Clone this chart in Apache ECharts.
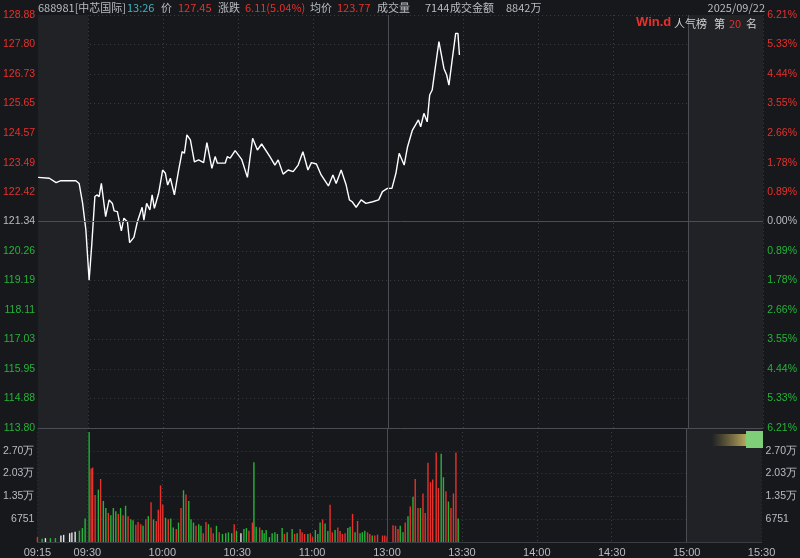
<!doctype html>
<html lang="zh">
<head>
<meta charset="UTF-8">
<style>html,body{margin:0;padding:0;background:#16181c;}</style>
</head>
<body>
<div id="main" style="width:800px;height:558px;"></div>
<script src="https://cdn.jsdelivr.net/npm/echarts@6/dist/echarts.min.js"></script>
<script>
// 分时数据：x 为距 09:30 的分钟（集合竞价段 09:15-09:30 压缩为 20 个单位）
var preClose = 121.34;
var priceTicks = [113.80, 114.88, 115.95, 117.03, 118.11, 119.19, 120.26, 121.34, 122.42, 123.49, 124.57, 125.65, 126.73, 127.80, 128.88];
var pctTicks = ['6.21%', '5.33%', '4.44%', '3.55%', '2.66%', '1.78%', '0.89%', '0.00%', '0.89%', '1.78%', '2.66%', '3.55%', '4.44%', '5.33%', '6.21%'];
var volTicks = [6751, 13502, 20253, 27004];
var volTickLabels = ['6751', '1.35万', '2.03万', '2.70万'];
var timeTicks = [-20, 0, 30, 60, 90, 120, 150, 180, 210, 240, 270];
var timeLabels = ['09:15', '09:30', '10:00', '10:30', '11:00', '13:00', '13:30', '14:00', '14:30', '15:00', '15:30'];

var priceT = [-20, -15.5, -12.8, -10.9, -4.9, -3.6, -2.2, -0.9, 0.4, 1.4, 2.7, 3.5, 4.4, 5.3, 7.0, 8.4, 9.7, 10.4, 11.7, 13.3, 14.3, 15.7, 16.6, 18.3, 19.7, 21.6, 22.3, 23.4, 24.7, 25.6, 26.5, 28.2, 29.8, 30.9, 31.8, 32.9, 34.5, 36.2, 37.6, 38.5, 39.5, 40.9, 42.5, 44.2, 46.2, 47.5, 49.5, 50.8, 51.7, 54.8, 55.7, 56.8, 58.8, 61.4, 63.7, 65.8, 67.7, 69.4, 72.7, 74.7, 76.0, 78.0, 80.0, 82.0, 84.0, 85.9, 87.9, 89.3, 91.3, 93.2, 96.1, 97.9, 99.2, 101.2, 103.2, 104.5, 105.6, 107.2, 109.2, 111.1, 113.8, 116.2, 117.7, 119.7, 121.5, 123.1, 124.4, 126.4, 127.7, 129.7, 132.1, 133.0, 134.3, 135.6, 136.6, 137.6, 138.7, 140.3, 142.3, 143.4, 144.3, 145.6, 147.0, 147.9, 148.5];
var priceV = [122.95, 122.92, 122.76, 122.83, 122.83, 122.73, 122.00, 121.03, 119.20, 120.42, 122.25, 122.31, 122.25, 122.73, 121.52, 122.13, 122.00, 121.73, 121.70, 121.00, 121.46, 121.33, 120.57, 120.76, 121.33, 121.86, 121.39, 122.00, 121.76, 122.31, 121.82, 122.37, 123.22, 123.10, 122.67, 122.92, 122.31, 123.22, 123.89, 123.83, 124.50, 124.32, 123.52, 123.59, 123.49, 124.22, 123.28, 123.71, 123.47, 123.47, 123.71, 123.65, 123.93, 123.61, 122.95, 124.38, 123.95, 124.17, 123.71, 123.40, 123.59, 123.07, 123.22, 123.16, 123.40, 123.89, 123.22, 123.49, 123.44, 123.04, 122.64, 123.04, 122.73, 123.22, 122.67, 122.13, 122.06, 121.86, 122.13, 122.00, 122.06, 122.13, 122.43, 122.55, 122.55, 123.10, 123.83, 123.40, 124.05, 124.68, 125.05, 124.80, 125.29, 124.98, 125.96, 126.14, 126.87, 127.91, 126.93, 126.69, 126.32, 127.24, 128.21, 128.21, 127.42];

var volT = [-20, -18.1, -16.8, -14.8, -12.8, -10.6, -9.5, -7.1, -6.2, -4.9, -3.2, -2.0, -0.9, 0.7, 1.5, 2.1, 3.1, 4.4, 5.3, 6.4, 7.4, 8.4, 9.4, 10.4, 11.4, 12.4, 13.3, 14.3, 15.3, 16.3, 17.4, 18.3, 19.4, 20.3, 21.4, 22.3, 23.4, 24.4, 25.5, 26.5, 27.6, 28.4, 29.3, 30.2, 31.3, 32.4, 33.4, 34.4, 35.6, 36.5, 37.5, 38.5, 39.5, 40.6, 41.5, 42.5, 43.5, 44.6, 45.5, 46.4, 47.5, 48.5, 49.5, 50.4, 51.7, 52.8, 54.1, 55.4, 56.5, 57.8, 58.8, 59.7, 61.5, 62.7, 63.7, 64.7, 66.1, 66.7, 67.6, 69.0, 70.0, 70.8, 71.6, 72.9, 74.0, 75.1, 76.1, 78.0, 78.9, 80.0, 82.0, 83.0, 84.0, 85.2, 86.0, 87.0, 88.3, 89.3, 90.2, 91.3, 92.3, 93.2, 94.2, 95.2, 96.3, 97.2, 98.1, 99.2, 100.3, 101.2, 102.1, 103.2, 104.3, 105.2, 106.2, 107.2, 108.2, 109.2, 110.1, 111.1, 112.2, 113.1, 114.1, 115.1, 116.2, 118.2, 119.1, 120.0, 122.4, 123.4, 124.4, 125.3, 126.4, 127.3, 128.4, 129.3, 130.4, 131.3, 132.4, 133.4, 134.4, 135.3, 136.4, 137.4, 138.3, 139.7, 140.6, 141.7, 142.6, 143.6, 144.6, 145.6, 146.6, 147.6, 148.5];
var volV = [1440, 960, 1150, 1150, 1150, 1920, 2110, 2590, 2780, 3070, 3350, 4120, 6990, 32560, 21740, 22030, 13880, 15510, 18670, 12160, 10060, 8620, 7950, 10060, 9100, 8330, 10060, 7950, 10730, 7660, 6700, 6420, 5080, 5940, 5270, 4790, 6700, 7660, 11780, 6700, 6220, 9580, 16760, 11010, 7180, 6700, 6990, 4310, 3830, 5750, 10060, 15320, 14080, 12160, 6700, 5750, 4790, 5270, 4790, 2590, 5940, 5270, 4310, 2590, 4790, 2870, 2390, 2590, 2870, 2590, 5270, 3350, 2590, 3830, 4120, 3350, 5750, 23650, 4500, 4310, 3540, 2590, 3540, 1440, 2590, 2870, 2390, 4120, 2390, 2870, 3830, 2390, 2590, 3830, 2870, 2390, 2390, 2590, 1440, 3540, 2390, 5750, 6700, 5460, 3260, 11010, 2870, 3540, 4310, 3260, 2390, 2590, 4120, 4500, 8330, 2870, 6220, 2590, 2870, 3350, 2870, 2390, 1920, 1920, 2200, 1920, 1920, 1630, 4980, 4790, 3830, 4790, 2870, 5750, 7660, 10540, 13410, 18670, 10060, 10060, 14370, 8620, 23460, 17720, 18480, 26530, 16000, 26150, 19160, 15030, 11980, 10060, 14370, 26530, 6990];
var volC = ['r', 'g', 'w', 'g', 'g', 'w', 'w', 'w', 'w', 'w', 'g', 'g', 'g', 'g', 'r', 'r', 'r', 'g', 'r', 'g', 'g', 'r', 'g', 'g', 'g', 'r', 'g', 'r', 'g', 'r', 'g', 'g', 'r', 'r', 'r', 'g', 'r', 'g', 'r', 'g', 'r', 'r', 'r', 'r', 'g', 'r', 'g', 'g', 'r', 'g', 'r', 'g', 'r', 'g', 'g', 'g', 'r', 'g', 'g', 'r', 'r', 'g', 'r', 'r', 'g', 'r', 'g', 'g', 'g', 'g', 'r', 'g', 'w', 'g', 'g', 'r', 'r', 'g', 'g', 'r', 'g', 'g', 'g', 'g', 'g', 'g', 'g', 'g', 'r', 'g', 'g', 'r', 'g', 'r', 'r', 'r', 'g', 'r', 'r', 'g', 'g', 'g', 'r', 'g', 'g', 'r', 'r', 'g', 'r', 'r', 'r', 'r', 'g', 'g', 'r', 'g', 'r', 'g', 'g', 'g', 'r', 'r', 'g', 'r', 'r', 'r', 'r', 'r', 'r', 'r', 'r', 'g', 'g', 'r', 'g', 'r', 'g', 'r', 'r', 'g', 'r', 'r', 'r', 'r', 'r', 'r', 'r', 'g', 'g', 'r', 'g', 'r', 'r', 'r', 'g'];

var RED = '#e8312c', GREEN = '#26b33a', GRAY = '#b9bcc2';
var colorMap = { r: RED, g: GREEN, w: '#e6e6e6' };

var priceData = priceT.map(function (t, i) { return [t, priceV[i]]; });
var volData = volT.map(function (t, i) {
    return { value: [t, volV[i]], itemStyle: { color: colorMap[volC[i]] } };
});

var gridLine = { show: true, lineStyle: { color: '#3a3d43', type: [1, 3] } };
var shade = {
    silent: true,
    itemStyle: { color: '#202226' },
    data: [[{ xAxis: -20 }, { xAxis: 0 }], [{ xAxis: 240 }, { xAxis: 270 }]]
};
var sessionLines = {
    silent: true, symbol: 'none', label: { show: false },
    lineStyle: { color: '#4a4d53', type: 'solid', width: 1 },
    data: [{ xAxis: 120 }, { xAxis: 240 }]
};

function xAxisCfg(idx, showLabel) {
    return {
        type: 'value', gridIndex: idx, min: -20, max: 270,
        axisLine: { show: showLabel, lineStyle: { color: '#3a3d43' } },
        axisTick: { show: false, customValues: timeTicks },
        axisLabel: {
            show: showLabel, customValues: timeTicks, color: GRAY, fontSize: 11, margin: 5,
            formatter: function (v) { return timeLabels[timeTicks.indexOf(v)]; }
        },
        splitLine: gridLine
    };
}

function txt(x, y, s, color, font) {
    return { type: 'text', left: x, top: y, z: 100, style: { text: s, fill: color, font: font || '11px "Noto Sans CJK SC"' } };
}

var myChart = echarts.init(document.getElementById('main'));

var option = {
    backgroundColor: '#16181c',
    animation: false,
    grid: [
        { left: 37, right: 34, top: 15, height: 413 },
        { left: 37, right: 34, top: 428, height: 117 }
    ],
    xAxis: [xAxisCfg(0, false), xAxisCfg(1, true)],
    yAxis: [
        {
            type: 'value', gridIndex: 0, min: 113.80, max: 128.88,
            axisLine: { show: false }, axisTick: { show: false, customValues: priceTicks },
            axisLabel: {
                customValues: priceTicks, fontSize: 10.5, margin: 3,
                formatter: function (v) { return v.toFixed(2); },
                color: function (v) { return v > preClose + 0.01 ? RED : (v < preClose - 0.01 ? GREEN : GRAY); }
            },
            splitLine: gridLine
        },
        {
            type: 'value', gridIndex: 0, position: 'right', min: 113.80, max: 128.88,
            axisLine: { show: false }, axisTick: { show: false },
            axisLabel: {
                customValues: priceTicks, fontSize: 10.5, margin: 4,
                formatter: function (v) { return pctTicks[priceTicks.indexOf(v)]; },
                color: function (v) { return v > preClose + 0.01 ? RED : (v < preClose - 0.01 ? GREEN : GRAY); }
            },
            splitLine: { show: false }
        },
        {
            type: 'value', gridIndex: 1, min: 0, max: 33755,
            axisLine: { show: false }, axisTick: { show: false, customValues: volTicks },
            axisLabel: {
                customValues: volTicks, fontSize: 10.5, margin: 3, color: GRAY,
                formatter: function (v) { return volTickLabels[volTicks.indexOf(v)]; }
            },
            splitLine: gridLine
        },
        {
            type: 'value', gridIndex: 1, position: 'right', min: 0, max: 33755,
            axisLine: { show: false }, axisTick: { show: false },
            axisLabel: {
                customValues: volTicks, fontSize: 10.5, margin: 4, color: GRAY,
                formatter: function (v) { return volTickLabels[volTicks.indexOf(v)]; }
            },
            splitLine: { show: false }
        }
    ],
    series: [
        {
            type: 'line', xAxisIndex: 0, yAxisIndex: 0, data: priceData,
            symbol: 'none', lineStyle: { color: '#ffffff', width: 1.4 },
            markArea: shade,
            markLine: {
                silent: true, symbol: 'none', label: { show: false },
                lineStyle: { color: '#4a4d53', type: 'solid', width: 1 },
                data: [{ yAxis: preClose }, { xAxis: 120 }, { xAxis: 240 }, { yAxis: 113.80 }]
            }
        },
        {
            type: 'bar', xAxisIndex: 1, yAxisIndex: 2, data: volData, barWidth: 1.4,
            markArea: shade, markLine: sessionLines
        }
    ],
    graphic: [
        txt(38, 2, '688981[中芯国际]', GRAY),
        txt(127, 2, '13:26', '#3fb5c6'),
        txt(161, 2, '价', GRAY),
        txt(178, 2, '127.45', RED),
        txt(218, 2, '涨跌', GRAY),
        txt(245, 2, '6.11(5.04%)', RED),
        txt(310, 2, '均价', GRAY),
        txt(337, 2, '123.77', RED),
        txt(377, 2, '成交量', GRAY),
        txt(425, 2, '7144', GRAY),
        txt(450, 2, '成交金额', GRAY),
        txt(506, 2, '8842万', GRAY),
        { type: 'text', right: 35, top: 2, z: 100, style: { text: '2025/09/22', fill: GRAY, font: '11px "Noto Sans CJK SC"' } },
        txt(636, 16, 'Win.d', RED, 'bold 13px "Liberation Sans"'),
        txt(674, 18, '人气榜', '#d0d0d0'),
        txt(714, 18, '第', '#d0d0d0'),
        txt(729, 18, '20', RED),
        txt(746, 18, '名', '#d0d0d0'),
        {
            type: 'rect', z: 100, shape: { x: 712, y: 434, width: 34, height: 12 },
            style: { fill: new echarts.graphic.LinearGradient(0, 0, 1, 0, [
                { offset: 0, color: 'rgba(200,170,80,0)' }, { offset: 1, color: 'rgba(220,200,110,0.8)' }]) }
        },
        { type: 'rect', z: 100, shape: { x: 746, y: 431, width: 17, height: 17 }, style: { fill: '#7fcf79' } }
    ]
};

myChart.setOption(option);
</script>
</body>
</html>
